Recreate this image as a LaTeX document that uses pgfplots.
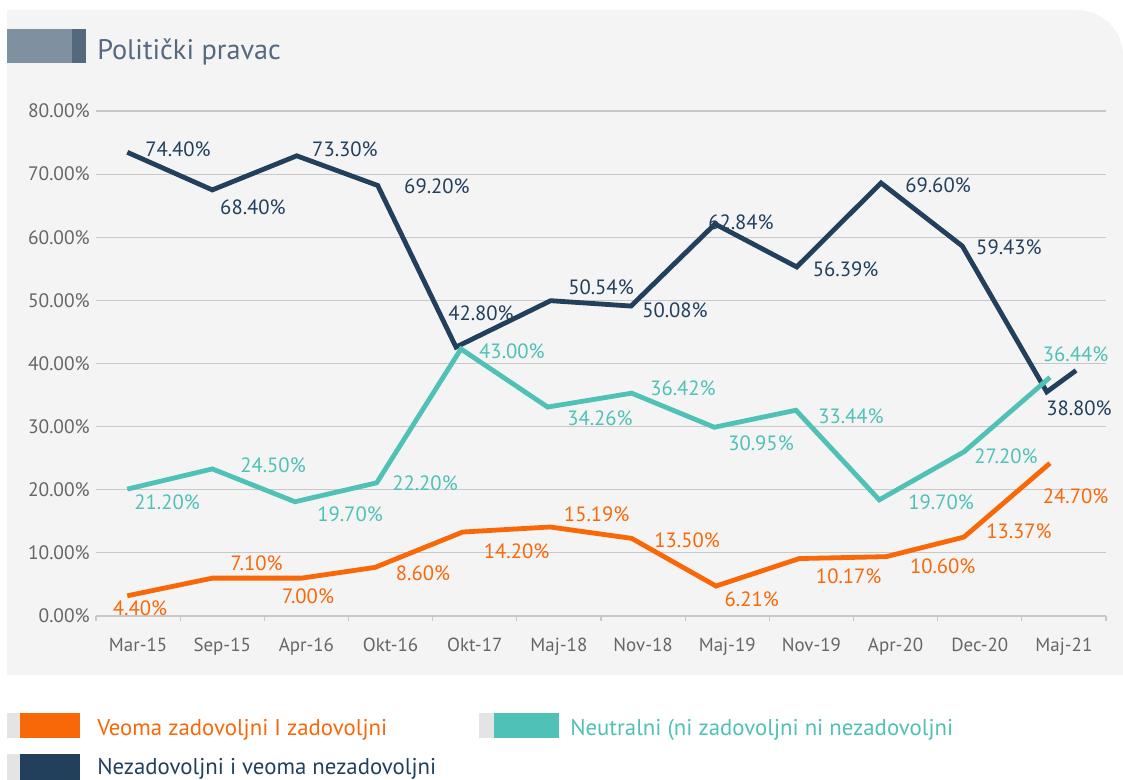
\documentclass[border=0pt]{standalone}
\usepackage{pgfplots}
\pgfplotsset{compat=1.18}
\usepackage{fontspec}
\setmainfont{PT Sans}
\definecolor{orng}{HTML}{F96808}
\definecolor{tealc}{HTML}{4FC1B6}
\definecolor{navy}{HTML}{223F5C}
\definecolor{panel}{HTML}{F4F4F4}
\definecolor{gridc}{HTML}{C8C8C8}
\definecolor{tickc}{HTML}{666666}
\definecolor{barlight}{HTML}{7F90A0}
\definecolor{bardark}{HTML}{55697E}
\definecolor{titlec}{HTML}{56697E}
\definecolor{lg}{HTML}{E4E4E4}
\newcommand{\lblfont}{\fontsize{15.5}{18}\selectfont}
\begin{document}
\begin{tikzpicture}
\begin{scope}[x=0.75pt,y=-0.75pt]
\fill[white] (0,0) rectangle (1123,780);
\fill[panel] (7,675) -- (7,10) -- (1077,10) arc[start angle=-90, end angle=0, radius=46] -- (1123,675) -- cycle;
\fill[barlight] (7,29) rectangle (72,63);
\fill[bardark] (72,29) rectangle (86,63);
\node[anchor=base west, inner sep=0pt, text=titlec, font=\fontsize{21.2}{25}\selectfont] at (97,59.3) {Politički pravac};
% legend
\fill[lg] (7,713) rectangle (20,738);
\fill[orng] (20,713) rectangle (80,738);
\node[anchor=base west, inner sep=0pt, text=orng, font=\fontsize{17.1}{21}\selectfont] at (97,735) {Veoma zadovoljni I zadovoljni};
\fill[lg] (479,713) rectangle (494,738);
\fill[tealc] (494,713) rectangle (559,738);
\node[anchor=base west, inner sep=0pt, text=tealc, font=\fontsize{17.1}{21}\selectfont] at (570,735) {Neutralni (ni zadovoljni ni nezadovoljni};
\fill[lg] (7,754) rectangle (20,780);
\fill[navy] (20,754) rectangle (80,780);
\node[anchor=base west, inner sep=0pt, text=navy, font=\fontsize{17.1}{21}\selectfont] at (97,774) {Nezadovoljni i veoma nezadovoljni};
\end{scope}
\begin{axis}[
  at={(72pt,-462pt)}, anchor=south west,
  scale only axis, width=757.5pt, height=378.75pt,
  xmin=-0.5, xmax=11.5, ymin=0, ymax=80,
  axis line style={draw=none},
  ymajorgrids, grid style={draw=gridc, line width=0.9pt},
  ytick={0,10,...,80},
  yticklabels={0.00\%,10.00\%,20.00\%,30.00\%,40.00\%,50.00\%,60.00\%,70.00\%,80.00\%},
  xtick={0,...,11},
  xticklabels={Mar-15,Sep-15,Apr-16,Okt-16,Okt-17,Maj-18,Nov-18,Maj-19,Nov-19,Apr-20,Dec-20,Maj-21},
  major tick length=0pt,
  minor xtick={-0.5,0.5,...,11.5},
  minor tick length=3.5pt,
  tick align=outside,
  xtick pos=bottom, ytick pos=left,
  minor tick style={draw=gridc, line width=0.9pt},
  yticklabel style={anchor=east, inner sep=0pt, xshift=-4.5pt, text=tickc, font=\fontsize{14.6}{17}\selectfont},
  xticklabel style={anchor=base, inner sep=0pt, yshift=-26.8pt, text=tickc, font=\fontsize{14.2}{17}\selectfont},
  clip=false,
]
\addplot[navy, line width=3.6pt, line join=miter] coordinates {
(-0.128,73.46) (0.882,67.5) (1.885,72.9) (2.847,68.2) (3.777,42.6) (4.902,49.95) (5.857,49.1) (6.855,62.1) (7.825,55.3) (8.827,68.6) (9.793,58.6) (10.796,35.5) (11.144,38.9)};
\addplot[tealc, line width=3.6pt, line join=miter] coordinates {
(-0.128,20.1) (0.882,23.3) (1.864,18.1) (2.835,21.1) (3.836,42.3) (4.866,33.1) (5.864,35.3) (6.846,29.9) (7.816,32.6) (8.806,18.4) (9.812,26.0) (10.834,37.8)};
\addplot[orng, line width=3.6pt, line join=miter] coordinates {
(-0.128,3.2) (0.882,6.0) (1.944,6.0) (2.815,7.7) (3.856,13.3) (4.894,14.1) (5.864,12.3) (6.866,4.75) (7.856,9.1) (8.887,9.4) (9.812,12.5) (10.834,24.2)};
% navy labels
\node[text=navy, font=\lblfont] at (axis cs:0.474,73.98) {74.40\%};
\node[text=navy, font=\lblfont] at (axis cs:1.365,64.79) {68.40\%};
\node[text=navy, font=\lblfont] at (axis cs:2.458,73.98) {73.30\%};
\node[text=navy, font=\lblfont] at (axis cs:3.551,68.01) {69.20\%};
\node[text=navy, font=\lblfont] at (axis cs:4.074,48.0) {42.80\%};
\node[text=navy, font=\lblfont] at (axis cs:5.500,52.01) {50.54\%};
\node[text=navy, font=\lblfont] at (axis cs:6.379,48.48) {50.08\%};
\node[text=navy, font=\lblfont] at (axis cs:7.163,62.42) {62.84\%};
\node[text=navy, font=\lblfont] at (axis cs:8.406,54.97) {56.39\%};
\node[text=navy, font=\lblfont] at (axis cs:9.504,68.17) {69.60\%};
\node[text=navy, font=\lblfont] at (axis cs:10.347,58.41) {59.43\%};
\node[text=navy, font=\lblfont] at (axis cs:11.179,32.90) {38.80\%};
% teal labels
\node[text=tealc, font=\lblfont] at (axis cs:0.344,18.01) {21.20\%};
\node[text=tealc, font=\lblfont] at (axis cs:1.603,23.92) {24.50\%};
\node[text=tealc, font=\lblfont] at (axis cs:2.518,16.11) {19.70\%};
\node[text=tealc, font=\lblfont] at (axis cs:3.409,21.02) {22.20\%};
\node[text=tealc, font=\lblfont] at (axis cs:4.442,41.87) {43.00\%};
\node[text=tealc, font=\lblfont] at (axis cs:5.488,31.32) {34.26\%};
\node[text=tealc, font=\lblfont] at (axis cs:6.474,36.07) {36.42\%};
\node[text=tealc, font=\lblfont] at (axis cs:7.401,27.36) {30.95\%};
\node[text=tealc, font=\lblfont] at (axis cs:8.470,31.68) {33.44\%};
\node[text=tealc, font=\lblfont] at (axis cs:9.540,18.01) {19.70\%};
\node[text=tealc, font=\lblfont] at (axis cs:10.312,25.24) {27.20\%};
\node[text=tealc, font=\lblfont] at (axis cs:11.138,41.50) {36.44\%};
% orange labels
\node[text=orng, font=\lblfont] at (axis cs:0.023,1.22) {4.40\%};
\node[text=orng, font=\lblfont] at (axis cs:1.409,8.35) {7.10\%};
\node[text=orng, font=\lblfont] at (axis cs:2.019,3.06) {7.00\%};
\node[text=orng, font=\lblfont] at (axis cs:3.385,6.76) {8.60\%};
\node[text=orng, font=\lblfont] at (axis cs:4.498,10.30) {14.20\%};
\node[text=orng, font=\lblfont] at (axis cs:5.449,16.11) {15.19\%};
\node[text=orng, font=\lblfont] at (axis cs:6.522,12.04) {13.50\%};
\node[text=orng, font=\lblfont] at (axis cs:7.291,2.65) {6.21\%};
\node[text=orng, font=\lblfont] at (axis cs:8.443,6.23) {10.17\%};
\node[text=orng, font=\lblfont] at (axis cs:9.560,7.81) {10.60\%};
\node[text=orng, font=\lblfont] at (axis cs:10.466,13.35) {13.37\%};
\node[text=orng, font=\lblfont] at (axis cs:11.138,18.90) {24.70\%};
\end{axis}
\end{tikzpicture}
\end{document}
